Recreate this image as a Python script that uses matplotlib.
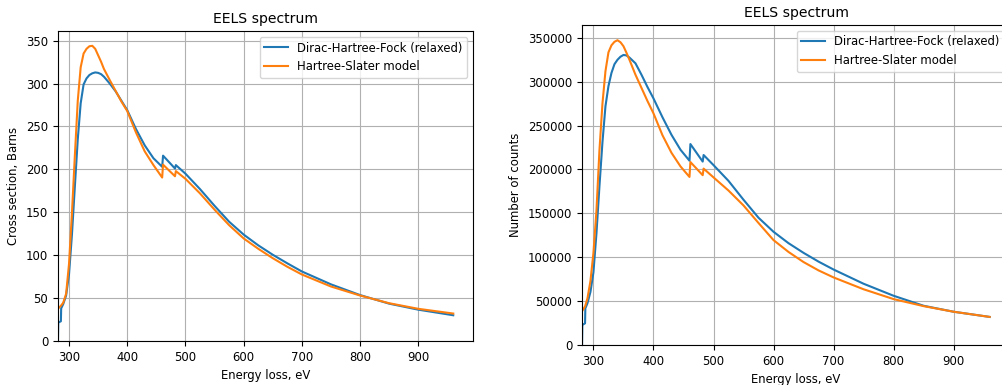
import matplotlib
matplotlib.use("Agg")
import matplotlib.pyplot as plt

# Energy grid (eV), shared by all curves
energy = [281, 281.5, 286, 286.5, 290, 295, 300, 305, 310, 315, 320, 325, 330,
          335, 340, 345, 350, 355, 360, 370, 380, 390, 400, 415, 430, 445, 460,
          461.5, 482, 483.5, 500, 525, 550, 575, 600, 625, 650, 675, 700, 750,
          800, 850, 900, 960]

# Cross sections (Barns)
xs_dhf = [0, 21.4, 23, 38, 43, 53, 78, 124, 180, 235, 277, 299, 306,
          310, 312, 313, 312.5, 311, 308, 300, 291, 280, 269, 247, 228, 213, 203,
          216, 201, 205, 195, 177, 157.5, 139, 124, 111.5, 100.5, 90.5, 81, 66,
          53.5, 43.5, 36.5, 30]
xs_hs = [38, 38, 41, 41.5, 44.5, 55, 90, 149, 216, 280, 319, 335, 340.5,
         343.5, 344, 340.5, 333, 325.5, 317, 304, 291.5, 279, 268, 243, 221, 205,
         190.5, 205.5, 192, 198, 189, 172, 153, 135, 119.5, 107.5, 96.5, 86.5,
         77.5, 63.5, 53, 44, 37.5, 32]

# Counts
counts_dhf = [0, 22800, 24700, 41800, 47500, 60500, 83000, 127000, 181000, 231000,
              272000, 295000, 310000, 320000, 325000, 328500, 330500, 330000,
              327500, 321000, 308000, 294000, 281000, 259500, 239500, 222500,
              210000, 229000, 209000, 216500, 205000, 187000, 165500, 145000,
              129000, 116000, 105000, 95000, 86000, 69800, 56100, 44700, 37900,
              32000]
counts_hs = [38700, 39000, 44000, 45000, 53000, 73000, 105000, 153000, 222000,
             275000, 312000, 333500, 341500, 345500, 347300, 345000, 340500,
             333000, 325000, 308000, 293000, 278000, 264000, 239000, 219000,
             203500, 191500, 208500, 193500, 201000, 191000, 176000, 159000,
             139000, 119500, 106000, 94500, 85000, 77000, 63500, 52300, 44300,
             37900, 32000]

plt.rcParams['font.size'] = 8.4

fig = plt.figure(figsize=(10.03, 3.85), dpi=100)

# Left: cross section
ax1 = fig.add_axes([0.0578, 0.1143, 0.4138, 0.805])
ax1.plot(energy, xs_dhf, label='Dirac-Hartree-Fock (relaxed)')
ax1.plot(energy, xs_hs, label='Hartree-Slater model')
ax1.set_xlim(left=energy[0])
ax1.set_ylim(bottom=0)
ax1.set_xlabel('Energy loss, eV')
ax1.set_ylabel('Cross section, Barns')
ax1.set_title('EELS spectrum', fontsize=10.1)
ax1.grid(True)
ax1.legend(loc='upper right')

# Right: counts (axes runs past the right edge, as in the screenshot)
ax2 = fig.add_axes([0.5803, 0.1039, 0.4267, 0.8312])
ax2.plot(energy, counts_dhf, label='Dirac-Hartree-Fock (relaxed)')
ax2.plot(energy, counts_hs, label='Hartree-Slater model')
ax2.set_xlim(left=energy[0])
ax2.set_ylim(bottom=0)
ax2.set_xlabel('Energy loss, eV')
ax2.set_ylabel('Number of counts')
ax2.set_title('EELS spectrum', fontsize=10.1)
ax2.grid(True)
ax2.legend(loc='upper right')

fig.savefig('out.png', dpi=100)
